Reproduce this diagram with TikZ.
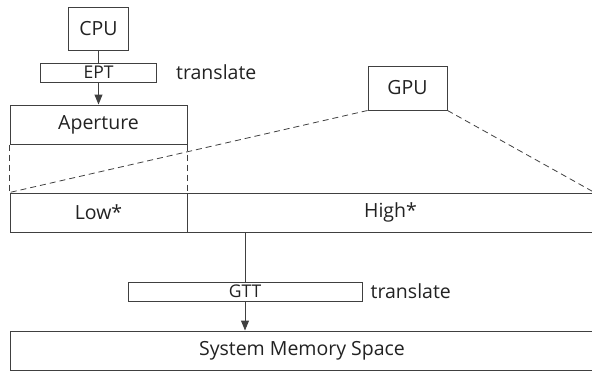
\documentclass[tikz,border=0pt]{standalone}
\usepackage{fontspec}
\setmainfont{Open Sans}
\usetikzlibrary{arrows.meta,positioning}
\definecolor{oline}{HTML}{404040}
\definecolor{otext}{HTML}{222222}

\begin{document}
\begin{tikzpicture}[
  x=1pt, y=-1pt,
  block/.style={
    draw=oline,
    fill=white,
    line width=1pt,
    inner sep=0pt,
    text=otext,
    font=\fontsize{19.5}{22}\selectfont
  },
  table/.style={block, minimum height=19pt, font=\fontsize{17.5}{19}\selectfont},
  note/.style={inner sep=0pt, text=otext, font=\fontsize{19.5}{22}\selectfont},
  link/.style={draw=oline, line width=1pt},
  flow/.style={link, -{Triangle[length=10pt,width=8pt]}},
  span/.style={draw=oline, line width=0.8pt, dash pattern=on 6pt off 4pt}
]
\useasboundingbox (0,0) rectangle (592,373);

% CPU side
\node[block, minimum width=60pt, minimum height=43pt] (cpu) at (98.5,28.5) {CPU};
\node[table, minimum width=116pt, below=12pt of cpu] (ept) {EPT};
\node[note, right=19pt of ept] (eptnote) {translate};
\node[block, minimum width=177pt, minimum height=39pt, below=22pt of ept] (aperture) {Aperture};

\draw[link] (cpu) -- (ept);
\draw[flow] (ept) -- (aperture);

% GPU side
\node[block, minimum width=79pt, minimum height=44pt] (gpu) at (407.5,88) {GPU};

% address space
\node[block, minimum width=177pt, minimum height=39pt] (low) at (98.5,212.5) {Low*};
\node[block, minimum width=407pt, minimum height=39pt, right=-1pt of low] (high) {High*};

\draw[span] (gpu.south west) -- (low.north west);
\draw[span] (gpu.south east) -- (high.north east);
\draw[span] (aperture.south west) -- (low.north west);
\draw[span] (aperture.south east) -- (low.north east);

% translation to system memory
\node[table, minimum width=234pt] (gtt) at (245,291.5) {GTT};
\node[note, right=8pt of gtt] (gttnote) {translate};
\node[block, minimum width=584pt, minimum height=39pt] (memory) at (302,350.5) {System Memory Space};

\coordinate (tap) at (gtt.north |- high.south);
\coordinate (hit) at (gtt.south |- memory.north);
\draw[link] (tap) -- (gtt);
\draw[flow] (gtt) -- (hit);

\end{tikzpicture}
\end{document}
